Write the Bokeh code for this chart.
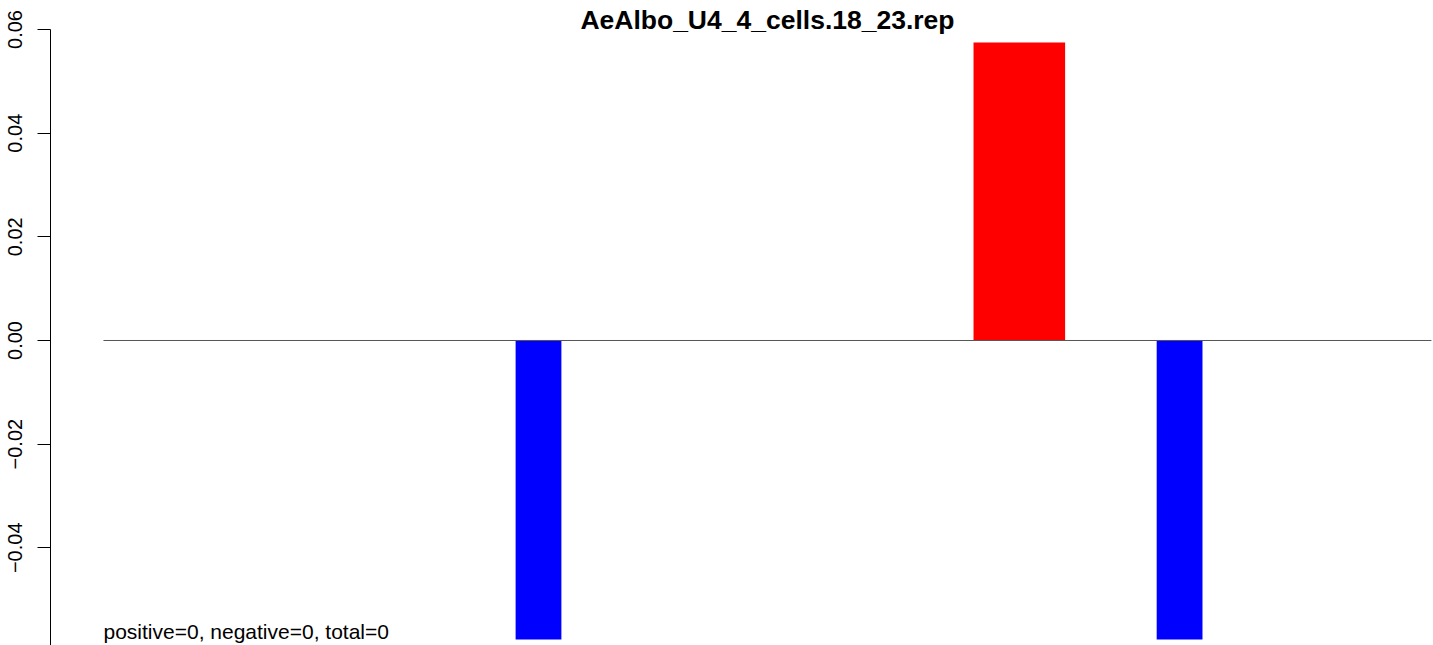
from bokeh.plotting import figure
from bokeh.models import Range1d, FixedTicker, CustomJSTickFormatter, Label, ColumnDataSource
from bokeh.embed import file_html
from bokeh.resources import INLINE

# ---- data ----
chart_title = "AeAlbo_U4_4_cells.18_23.rep"
summary_text = "positive=0, negative=0, total=0"
bin_index = list(range(29))
bin_values = [0, 0, 0, 0, 0, 0, 0, 0, 0, -0.0577,
              0, 0, 0, 0, 0, 0, 0, 0, 0, 0.0575,
              0.0575, 0, 0, -0.0577, 0, 0, 0, 0, 0]
y_ticks = [-0.06, -0.04, -0.02, 0.0, 0.02, 0.04, 0.06]

FONT = "Liberation Sans"

# merge runs of adjacent bins with identical non-zero value into one bar (no seams)
lefts, rights, tops, cols = [], [], [], []
for i, v in zip(bin_index, bin_values):
    if v == 0:
        continue
    if tops and rights[-1] == i and tops[-1] == v:
        rights[-1] = i + 1
    else:
        lefts.append(i)
        rights.append(i + 1)
        tops.append(v)
        cols.append("#FF0000" if v > 0 else "#0000FF")

src = ColumnDataSource(dict(left=lefts, right=rights, top=tops,
                            bottom=[0] * len(tops), color=cols))

p = figure(width=1433, height=645, output_backend="svg", toolbar_location=None,
           x_axis_type=None, min_border=0, min_border_left=50,
           x_range=Range1d(-1.157, 29.045), y_range=Range1d(-0.05885, 0.0656))
p.outline_line_color = None
p.grid.grid_line_color = None
p.background_fill_color = "white"
p.border_fill_color = "white"

p.quad(left="left", right="right", top="top", bottom="bottom", source=src,
       fill_color="color", line_color=None)

p.segment(x0=[0], y0=[0], x1=[len(bin_values)], y1=[0], line_color="#555555", line_width=1)

ax = p.yaxis[0]
ax.ticker = FixedTicker(ticks=y_ticks)
ax.formatter = CustomJSTickFormatter(code="return (tick < 0 ? '\\u2212' : '') + Math.abs(tick).toFixed(2);")
ax.bounds = (min(y_ticks), max(y_ticks))
ax.major_label_orientation = "vertical"
ax.major_label_text_font = FONT
ax.major_label_text_font_size = "20px"
ax.major_label_text_color = "black"
ax.major_label_standoff = 15
ax.major_tick_out = 13
ax.major_tick_in = 0
ax.minor_tick_line_color = None
ax.axis_line_color = "black"
ax.major_tick_line_color = "black"

p.add_layout(Label(x=len(bin_values) / 2, y=0.0619, text=chart_title,
                   text_align="center", text_baseline="alphabetic",
                   text_font=FONT, text_font_style="bold", text_font_size="26.5px",
                   text_color="black"))
p.add_layout(Label(x=0, y=-0.0562, text=summary_text,
                   text_align="left", text_baseline="alphabetic",
                   text_font=FONT, text_font_size="21px", text_color="black"))

open("out.html", "w").write(file_html(p, INLINE))
